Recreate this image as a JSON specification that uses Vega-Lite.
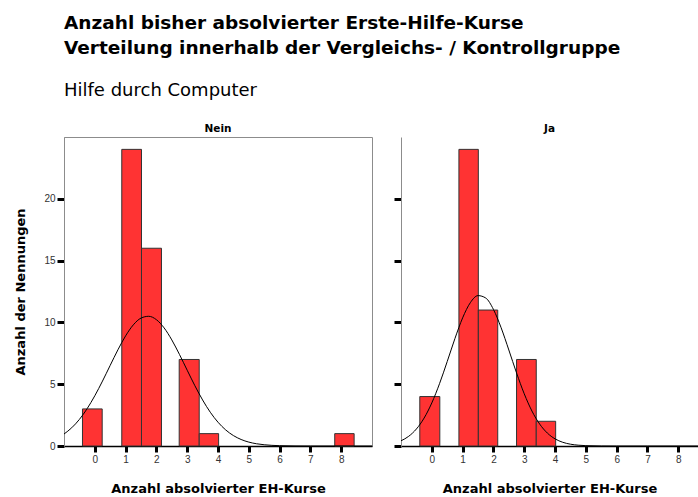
{
  "$schema": "https://vega.github.io/schema/vega-lite/v6.json",
  "background": "white",
  "padding": {"left": 13, "top": 14, "right": 0, "bottom": 0},
  "bounds": "flush",
  "spacing": 29,
  "title": {
    "text": ["Anzahl bisher absolvierter Erste-Hilfe-Kurse", "Verteilung innerhalb der Vergleichs- / Kontrollgruppe"],
    "subtitle": "Hilfe durch Computer",
    "anchor": "start",
    "frame": "group",
    "font": "DejaVu Sans",
    "fontSize": 18.5,
    "fontWeight": "bold",
    "lineHeight": 25,
    "color": "#000000",
    "subtitleFont": "DejaVu Sans",
    "subtitleFontSize": 18,
    "subtitleColor": "#000000",
    "subtitlePadding": 24,
    "offset": 23.5
  },
  "config": {
    "font": "DejaVu Sans",
    "view": {"stroke": "#8c8c8c", "strokeWidth": 1},
    "axis": {
      "grid": false,
      "labelFont": "Liberation Sans",
      "labelFontSize": 10,
      "labelColor": "#333333",
      "labelOverlap": false,
      "tickColor": "#000000",
      "tickWidth": 3,
      "tickCap": "butt",
      "titleFont": "DejaVu Sans",
      "titleFontSize": 13,
      "titleFontWeight": "bold",
      "titleColor": "#000000"
    },
    "axisX": {"domainColor": "#000000", "domainWidth": 1.5, "tickSize": 6, "labelPadding": 2},
    "axisY": {"domainColor": "#8c8c8c", "tickSize": 7, "labelPadding": 2}
  },
  "datasets": {
    "bars": [
      {"g": "Nein", "x0": -0.40, "x1": 0.24, "n": 3},
      {"g": "Nein", "x0": 0.876, "x1": 1.516, "n": 24},
      {"g": "Nein", "x0": 1.516, "x1": 2.165, "n": 16},
      {"g": "Nein", "x0": 2.74, "x1": 3.39, "n": 7},
      {"g": "Nein", "x0": 3.39, "x1": 4.02, "n": 1},
      {"g": "Nein", "x0": 7.79, "x1": 8.42, "n": 1},
      {"g": "Ja", "x0": -0.39, "x1": 0.26, "n": 4},
      {"g": "Ja", "x0": 0.88, "x1": 1.51, "n": 24},
      {"g": "Ja", "x0": 1.51, "x1": 2.14, "n": 11},
      {"g": "Ja", "x0": 2.75, "x1": 3.39, "n": 7},
      {"g": "Ja", "x0": 3.39, "x1": 4.02, "n": 2}
    ],
    "curve": [
      {"g": "Nein", "x": -1, "y": 0.969},
      {"g": "Nein", "x": -0.75, "y": 1.473},
      {"g": "Nein", "x": -0.5, "y": 2.151},
      {"g": "Nein", "x": -0.25, "y": 3.017},
      {"g": "Nein", "x": 0, "y": 4.063},
      {"g": "Nein", "x": 0.25, "y": 5.253},
      {"g": "Nein", "x": 0.5, "y": 6.524},
      {"g": "Nein", "x": 0.75, "y": 7.78},
      {"g": "Nein", "x": 1, "y": 8.91},
      {"g": "Nein", "x": 1.25, "y": 9.799},
      {"g": "Nein", "x": 1.5, "y": 10.348},
      {"g": "Nein", "x": 1.75, "y": 10.494},
      {"g": "Nein", "x": 2, "y": 10.22},
      {"g": "Nein", "x": 2.25, "y": 9.557},
      {"g": "Nein", "x": 2.5, "y": 8.583},
      {"g": "Nein", "x": 2.75, "y": 7.401},
      {"g": "Nein", "x": 3, "y": 6.13},
      {"g": "Nein", "x": 3.25, "y": 4.875},
      {"g": "Nein", "x": 3.5, "y": 3.723},
      {"g": "Nein", "x": 3.75, "y": 2.73},
      {"g": "Nein", "x": 4, "y": 1.923},
      {"g": "Nein", "x": 4.25, "y": 1.3},
      {"g": "Nein", "x": 4.5, "y": 0.844},
      {"g": "Nein", "x": 4.75, "y": 0.527},
      {"g": "Nein", "x": 5, "y": 0.315},
      {"g": "Nein", "x": 5.25, "y": 0.181},
      {"g": "Nein", "x": 5.5, "y": 0.1},
      {"g": "Nein", "x": 5.75, "y": 0.053},
      {"g": "Nein", "x": 6, "y": 0.027},
      {"g": "Nein", "x": 6.5, "y": 0.006},
      {"g": "Nein", "x": 7, "y": 0.001},
      {"g": "Nein", "x": 8, "y": 0},
      {"g": "Nein", "x": 9, "y": 0},
      {"g": "Ja", "x": -1, "y": 0.42},
      {"g": "Ja", "x": -0.75, "y": 0.785},
      {"g": "Ja", "x": -0.5, "y": 1.376},
      {"g": "Ja", "x": -0.25, "y": 2.261},
      {"g": "Ja", "x": 0, "y": 3.485},
      {"g": "Ja", "x": 0.25, "y": 5.039},
      {"g": "Ja", "x": 0.5, "y": 6.833},
      {"g": "Ja", "x": 0.75, "y": 8.69},
      {"g": "Ja", "x": 1, "y": 10.366},
      {"g": "Ja", "x": 1.25, "y": 11.596},
      {"g": "Ja", "x": 1.5, "y": 12.168},
      {"g": "Ja", "x": 1.75, "y": 11.974},
      {"g": "Ja", "x": 2, "y": 11.052},
      {"g": "Ja", "x": 2.25, "y": 9.567},
      {"g": "Ja", "x": 2.5, "y": 7.768},
      {"g": "Ja", "x": 2.75, "y": 5.915},
      {"g": "Ja", "x": 3, "y": 4.224},
      {"g": "Ja", "x": 3.25, "y": 2.829},
      {"g": "Ja", "x": 3.5, "y": 1.777},
      {"g": "Ja", "x": 3.75, "y": 1.047},
      {"g": "Ja", "x": 4, "y": 0.579},
      {"g": "Ja", "x": 4.25, "y": 0.3},
      {"g": "Ja", "x": 4.5, "y": 0.146},
      {"g": "Ja", "x": 4.75, "y": 0.066},
      {"g": "Ja", "x": 5, "y": 0.028},
      {"g": "Ja", "x": 5.5, "y": 0.004},
      {"g": "Ja", "x": 6, "y": 0},
      {"g": "Ja", "x": 7, "y": 0},
      {"g": "Ja", "x": 8.64, "y": 0}
    ]
  },
  "hconcat": [
    {
      "width": 308,
      "height": 309,
      "title": {"text": "Nein", "anchor": "middle", "font": "DejaVu Sans", "fontSize": 10.5, "fontWeight": "bold", "color": "#000000", "offset": 3},
      "layer": [
        {
          "data": {"name": "bars"},
          "transform": [{"filter": "datum.g === 'Nein'"}],
          "mark": {"type": "rect", "fill": "#ff3333", "stroke": "#333333", "strokeWidth": 1},
          "encoding": {
            "x": {"field": "x0", "type": "quantitative", "scale": {"domain": [-1, 9], "nice": false, "zero": false},
                  "axis": {"values": [0, 1, 2, 3, 4, 5, 6, 7, 8], "labelOverlap": false, "labelSeparation": 0, "tickCount": 9, "format": "d", "title": "Anzahl absolvierter EH-Kurse", "titleY": 46, "titleBaseline": "alphabetic"}},
            "x2": {"field": "x1"},
            "y": {"field": "n", "type": "quantitative", "scale": {"domain": [0, 25], "nice": false},
                  "axis": {"values": [0, 5, 10, 15, 20], "labelOverlap": false, "title": "Anzahl der Nennungen", "titleX": -40, "titleY": 154.5, "titleAngle": -90, "titleAlign": "center", "titleBaseline": "alphabetic"}},
            "y2": {"datum": 0}
          }
        },
        {
          "data": {"name": "curve"},
          "transform": [{"filter": "datum.g === 'Nein'"}],
          "mark": {"type": "line", "color": "#000000", "strokeWidth": 1, "interpolate": "monotone", "clip": true},
          "encoding": {
            "x": {"field": "x", "type": "quantitative"},
            "y": {"field": "y", "type": "quantitative"}
          }
        }
      ]
    },
    {
      "width": 297,
      "height": 309,
      "view": {"stroke": null},
      "title": {"text": "Ja", "anchor": "middle", "font": "DejaVu Sans", "fontSize": 10.5, "fontWeight": "bold", "color": "#000000", "offset": 3},
      "layer": [
        {
          "mark": {"type": "rule", "color": "#8c8c8c", "strokeWidth": 1},
          "encoding": {"y": {"datum": 25, "type": "quantitative", "scale": {"domain": [0, 25], "nice": false}}}
        },
        {
          "data": {"name": "bars"},
          "transform": [{"filter": "datum.g === 'Ja'"}],
          "mark": {"type": "rect", "fill": "#ff3333", "stroke": "#333333", "strokeWidth": 1},
          "encoding": {
            "x": {"field": "x0", "type": "quantitative", "scale": {"domain": [-1, 8.64], "nice": false, "zero": false},
                  "axis": {"values": [0, 1, 2, 3, 4, 5, 6, 7, 8], "labelOverlap": false, "labelSeparation": 0, "tickCount": 9, "format": "d", "title": "Anzahl absolvierter EH-Kurse", "titleY": 46, "titleBaseline": "alphabetic"}},
            "x2": {"field": "x1"},
            "y": {"field": "n", "type": "quantitative", "scale": {"domain": [0, 25], "nice": false},
                  "axis": {"values": [0, 5, 10, 15, 20], "labels": false, "title": null}},
            "y2": {"datum": 0}
          }
        },
        {
          "data": {"name": "curve"},
          "transform": [{"filter": "datum.g === 'Ja'"}],
          "mark": {"type": "line", "color": "#000000", "strokeWidth": 1, "interpolate": "monotone", "clip": true},
          "encoding": {
            "x": {"field": "x", "type": "quantitative"},
            "y": {"field": "y", "type": "quantitative"}
          }
        }
      ]
    }
  ]
}
